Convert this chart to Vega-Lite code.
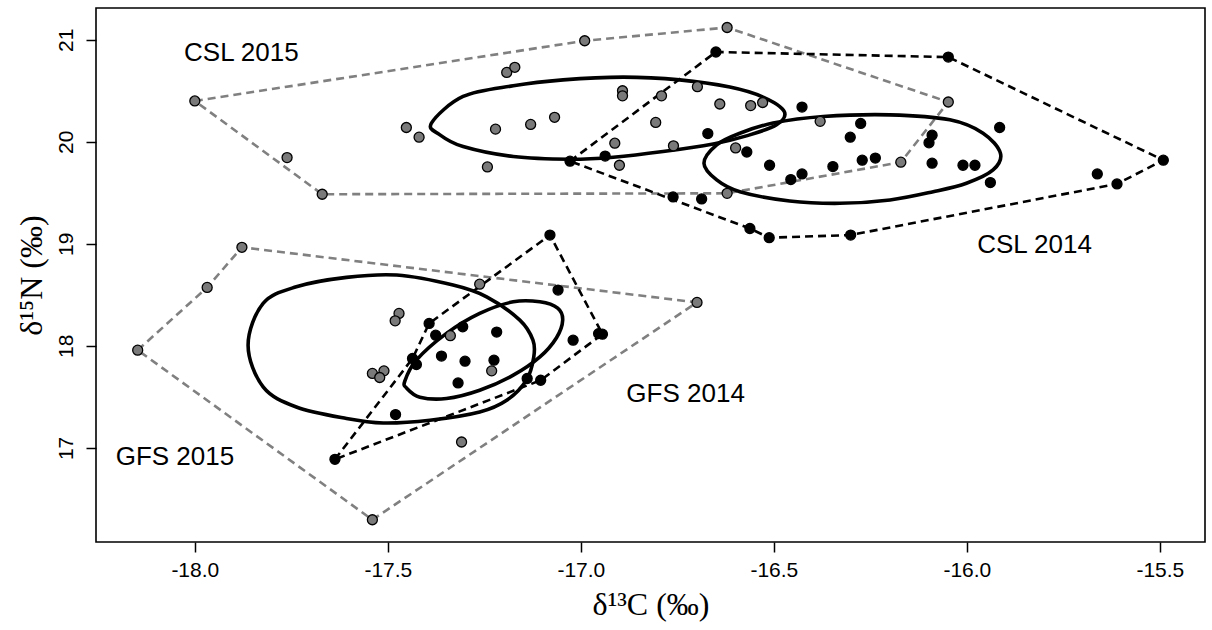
{
  "$schema": "https://vega.github.io/schema/vega-lite/v6.json",
  "width": 1109,
  "height": 534,
  "autosize": {"type": "none"},
  "padding": {"left": 96, "top": 8, "right": 7, "bottom": 88},
  "background": "white",
  "config": {
    "view": {"stroke": "#000000", "strokeWidth": 1.6},
    "axis": {"domain": false, "grid": false, "tickColor": "#000", "tickWidth": 1.5, "tickSize": 10, "labelColor": "#000", "titleColor": "#000", "labelFont": "Liberation Sans", "labelFontSize": 21, "titleFont": "Liberation Serif", "titleFontSize": 32, "titleFontWeight": "normal"}
  },
  "datasets": {
    "pts": [
      {"x": -18.0, "y": 20.4, "group": "CSL 2015", "year": "2015"},
      {"x": -17.761, "y": 19.845, "group": "CSL 2015", "year": "2015"},
      {"x": -17.67, "y": 19.486, "group": "CSL 2015", "year": "2015"},
      {"x": -16.99, "y": 20.99, "group": "CSL 2015", "year": "2015"},
      {"x": -17.192, "y": 20.68, "group": "CSL 2015", "year": "2015"},
      {"x": -17.171, "y": 20.73, "group": "CSL 2015", "year": "2015"},
      {"x": -17.452, "y": 20.14, "group": "CSL 2015", "year": "2015"},
      {"x": -17.419, "y": 20.045, "group": "CSL 2015", "year": "2015"},
      {"x": -17.221, "y": 20.124, "group": "CSL 2015", "year": "2015"},
      {"x": -17.13, "y": 20.17, "group": "CSL 2015", "year": "2015"},
      {"x": -17.068, "y": 20.24, "group": "CSL 2015", "year": "2015"},
      {"x": -17.242, "y": 19.754, "group": "CSL 2015", "year": "2015"},
      {"x": -16.892, "y": 20.5, "group": "CSL 2015", "year": "2015"},
      {"x": -16.892, "y": 20.45, "group": "CSL 2015", "year": "2015"},
      {"x": -16.912, "y": 19.986, "group": "CSL 2015", "year": "2015"},
      {"x": -16.9, "y": 19.77, "group": "CSL 2015", "year": "2015"},
      {"x": -16.621, "y": 21.12, "group": "CSL 2015", "year": "2015"},
      {"x": -16.791, "y": 20.45, "group": "CSL 2015", "year": "2015"},
      {"x": -16.698, "y": 20.54, "group": "CSL 2015", "year": "2015"},
      {"x": -16.64, "y": 20.37, "group": "CSL 2015", "year": "2015"},
      {"x": -16.56, "y": 20.355, "group": "CSL 2015", "year": "2015"},
      {"x": -16.529, "y": 20.385, "group": "CSL 2015", "year": "2015"},
      {"x": -16.806, "y": 20.19, "group": "CSL 2015", "year": "2015"},
      {"x": -16.76, "y": 19.96, "group": "CSL 2015", "year": "2015"},
      {"x": -16.599, "y": 19.94, "group": "CSL 2015", "year": "2015"},
      {"x": -16.38, "y": 20.2, "group": "CSL 2015", "year": "2015"},
      {"x": -16.171, "y": 19.8, "group": "CSL 2015", "year": "2015"},
      {"x": -16.621, "y": 19.495, "group": "CSL 2015", "year": "2015"},
      {"x": -16.048, "y": 20.39, "group": "CSL 2015", "year": "2015"},
      {"x": -17.028, "y": 19.81, "group": "CSL 2014", "year": "2014"},
      {"x": -16.937, "y": 19.86, "group": "CSL 2014", "year": "2014"},
      {"x": -16.65, "y": 20.88, "group": "CSL 2014", "year": "2014"},
      {"x": -16.427, "y": 20.34, "group": "CSL 2014", "year": "2014"},
      {"x": -16.671, "y": 20.08, "group": "CSL 2014", "year": "2014"},
      {"x": -16.57, "y": 19.9, "group": "CSL 2014", "year": "2014"},
      {"x": -16.511, "y": 19.77, "group": "CSL 2014", "year": "2014"},
      {"x": -16.456, "y": 19.63, "group": "CSL 2014", "year": "2014"},
      {"x": -16.427, "y": 19.685, "group": "CSL 2014", "year": "2014"},
      {"x": -16.347, "y": 19.757, "group": "CSL 2014", "year": "2014"},
      {"x": -16.275, "y": 20.18, "group": "CSL 2014", "year": "2014"},
      {"x": -16.302, "y": 20.045, "group": "CSL 2014", "year": "2014"},
      {"x": -16.271, "y": 19.82, "group": "CSL 2014", "year": "2014"},
      {"x": -16.237, "y": 19.84, "group": "CSL 2014", "year": "2014"},
      {"x": -16.761, "y": 19.46, "group": "CSL 2014", "year": "2014"},
      {"x": -16.687, "y": 19.44, "group": "CSL 2014", "year": "2014"},
      {"x": -16.562, "y": 19.15, "group": "CSL 2014", "year": "2014"},
      {"x": -16.512, "y": 19.06, "group": "CSL 2014", "year": "2014"},
      {"x": -16.301, "y": 19.086, "group": "CSL 2014", "year": "2014"},
      {"x": -16.048, "y": 20.83, "group": "CSL 2014", "year": "2014"},
      {"x": -15.915, "y": 20.14, "group": "CSL 2014", "year": "2014"},
      {"x": -16.09, "y": 20.065, "group": "CSL 2014", "year": "2014"},
      {"x": -16.098, "y": 19.99, "group": "CSL 2014", "year": "2014"},
      {"x": -16.09, "y": 19.79, "group": "CSL 2014", "year": "2014"},
      {"x": -16.01, "y": 19.77, "group": "CSL 2014", "year": "2014"},
      {"x": -15.979, "y": 19.77, "group": "CSL 2014", "year": "2014"},
      {"x": -15.939, "y": 19.6, "group": "CSL 2014", "year": "2014"},
      {"x": -15.662, "y": 19.685, "group": "CSL 2014", "year": "2014"},
      {"x": -15.611, "y": 19.587, "group": "CSL 2014", "year": "2014"},
      {"x": -15.491, "y": 19.82, "group": "CSL 2014", "year": "2014"},
      {"x": -17.968, "y": 18.573, "group": "GFS 2015", "year": "2015"},
      {"x": -18.148, "y": 17.958, "group": "GFS 2015", "year": "2015"},
      {"x": -17.54, "y": 16.296, "group": "GFS 2015", "year": "2015"},
      {"x": -17.878, "y": 18.966, "group": "GFS 2015", "year": "2015"},
      {"x": -17.471, "y": 18.318, "group": "GFS 2015", "year": "2015"},
      {"x": -17.481, "y": 18.245, "group": "GFS 2015", "year": "2015"},
      {"x": -17.54, "y": 17.73, "group": "GFS 2015", "year": "2015"},
      {"x": -17.51, "y": 17.755, "group": "GFS 2015", "year": "2015"},
      {"x": -17.521, "y": 17.69, "group": "GFS 2015", "year": "2015"},
      {"x": -17.262, "y": 18.605, "group": "GFS 2015", "year": "2015"},
      {"x": -17.338, "y": 18.1, "group": "GFS 2015", "year": "2015"},
      {"x": -17.231, "y": 17.755, "group": "GFS 2015", "year": "2015"},
      {"x": -16.699, "y": 18.426, "group": "GFS 2015", "year": "2015"},
      {"x": -17.309, "y": 17.058, "group": "GFS 2015", "year": "2015"},
      {"x": -17.637, "y": 16.888, "group": "GFS 2014", "year": "2014"},
      {"x": -17.48, "y": 17.327, "group": "GFS 2014", "year": "2014"},
      {"x": -17.426, "y": 17.817, "group": "GFS 2014", "year": "2014"},
      {"x": -17.436, "y": 17.876, "group": "GFS 2014", "year": "2014"},
      {"x": -17.393, "y": 18.22, "group": "GFS 2014", "year": "2014"},
      {"x": -17.08, "y": 19.086, "group": "GFS 2014", "year": "2014"},
      {"x": -17.059, "y": 18.547, "group": "GFS 2014", "year": "2014"},
      {"x": -16.944, "y": 18.115, "group": "GFS 2014", "year": "2014"},
      {"x": -16.954, "y": 18.12, "group": "GFS 2014", "year": "2014"},
      {"x": -17.02, "y": 18.056, "group": "GFS 2014", "year": "2014"},
      {"x": -17.376, "y": 18.105, "group": "GFS 2014", "year": "2014"},
      {"x": -17.306, "y": 18.187, "group": "GFS 2014", "year": "2014"},
      {"x": -17.218, "y": 18.135, "group": "GFS 2014", "year": "2014"},
      {"x": -17.361, "y": 17.9, "group": "GFS 2014", "year": "2014"},
      {"x": -17.3, "y": 17.85, "group": "GFS 2014", "year": "2014"},
      {"x": -17.225, "y": 17.86, "group": "GFS 2014", "year": "2014"},
      {"x": -17.318, "y": 17.637, "group": "GFS 2014", "year": "2014"},
      {"x": -17.139, "y": 17.68, "group": "GFS 2014", "year": "2014"},
      {"x": -17.104, "y": 17.663, "group": "GFS 2014", "year": "2014"}
    ],
    "hulls": [
      {"x": -18.0, "y": 20.4, "group": "CSL 2015", "year": "2015", "ord": 1},
      {"x": -16.99, "y": 20.99, "group": "CSL 2015", "year": "2015", "ord": 2},
      {"x": -16.621, "y": 21.12, "group": "CSL 2015", "year": "2015", "ord": 3},
      {"x": -16.048, "y": 20.39, "group": "CSL 2015", "year": "2015", "ord": 4},
      {"x": -16.171, "y": 19.8, "group": "CSL 2015", "year": "2015", "ord": 5},
      {"x": -16.621, "y": 19.495, "group": "CSL 2015", "year": "2015", "ord": 6},
      {"x": -17.67, "y": 19.486, "group": "CSL 2015", "year": "2015", "ord": 7},
      {"x": -17.028, "y": 19.81, "group": "CSL 2014", "year": "2014", "ord": 1},
      {"x": -16.65, "y": 20.88, "group": "CSL 2014", "year": "2014", "ord": 2},
      {"x": -16.048, "y": 20.83, "group": "CSL 2014", "year": "2014", "ord": 3},
      {"x": -15.491, "y": 19.82, "group": "CSL 2014", "year": "2014", "ord": 4},
      {"x": -15.611, "y": 19.587, "group": "CSL 2014", "year": "2014", "ord": 5},
      {"x": -16.301, "y": 19.086, "group": "CSL 2014", "year": "2014", "ord": 6},
      {"x": -16.512, "y": 19.06, "group": "CSL 2014", "year": "2014", "ord": 7},
      {"x": -16.562, "y": 19.15, "group": "CSL 2014", "year": "2014", "ord": 8},
      {"x": -18.148, "y": 17.958, "group": "GFS 2015", "year": "2015", "ord": 1},
      {"x": -17.968, "y": 18.573, "group": "GFS 2015", "year": "2015", "ord": 2},
      {"x": -17.878, "y": 18.966, "group": "GFS 2015", "year": "2015", "ord": 3},
      {"x": -16.699, "y": 18.426, "group": "GFS 2015", "year": "2015", "ord": 4},
      {"x": -17.54, "y": 16.296, "group": "GFS 2015", "year": "2015", "ord": 5},
      {"x": -17.637, "y": 16.888, "group": "GFS 2014", "year": "2014", "ord": 1},
      {"x": -17.436, "y": 17.876, "group": "GFS 2014", "year": "2014", "ord": 2},
      {"x": -17.393, "y": 18.22, "group": "GFS 2014", "year": "2014", "ord": 3},
      {"x": -17.08, "y": 19.086, "group": "GFS 2014", "year": "2014", "ord": 4},
      {"x": -16.944, "y": 18.115, "group": "GFS 2014", "year": "2014", "ord": 5},
      {"x": -17.104, "y": 17.663, "group": "GFS 2014", "year": "2014", "ord": 6}
    ],
    "ellipses": [
      {"x": -17.387, "y": 20.183, "group": "CSL 2015", "ord": 1},
      {"x": -17.305, "y": 20.444, "group": "CSL 2015", "ord": 2},
      {"x": -17.175, "y": 20.549, "group": "CSL 2015", "ord": 3},
      {"x": -17.046, "y": 20.607, "group": "CSL 2015", "ord": 4},
      {"x": -16.89, "y": 20.634, "group": "CSL 2015", "ord": 5},
      {"x": -16.744, "y": 20.607, "group": "CSL 2015", "ord": 6},
      {"x": -16.614, "y": 20.536, "group": "CSL 2015", "ord": 7},
      {"x": -16.528, "y": 20.438, "group": "CSL 2015", "ord": 8},
      {"x": -16.473, "y": 20.296, "group": "CSL 2015", "ord": 9},
      {"x": -16.493, "y": 20.166, "group": "CSL 2015", "ord": 10},
      {"x": -16.571, "y": 20.058, "group": "CSL 2015", "ord": 11},
      {"x": -16.657, "y": 19.979, "group": "CSL 2015", "ord": 12},
      {"x": -16.787, "y": 19.904, "group": "CSL 2015", "ord": 13},
      {"x": -16.916, "y": 19.849, "group": "CSL 2015", "ord": 14},
      {"x": -17.028, "y": 19.829, "group": "CSL 2015", "ord": 15},
      {"x": -17.175, "y": 19.855, "group": "CSL 2015", "ord": 16},
      {"x": -17.305, "y": 19.953, "group": "CSL 2015", "ord": 17},
      {"x": -17.365, "y": 20.068, "group": "CSL 2015", "ord": 18},
      {"x": -16.681, "y": 19.79, "group": "CSL 2014", "ord": 1},
      {"x": -16.648, "y": 19.97, "group": "CSL 2014", "ord": 2},
      {"x": -16.588, "y": 20.084, "group": "CSL 2014", "ord": 3},
      {"x": -16.502, "y": 20.183, "group": "CSL 2014", "ord": 4},
      {"x": -16.372, "y": 20.247, "group": "CSL 2014", "ord": 5},
      {"x": -16.199, "y": 20.264, "group": "CSL 2014", "ord": 6},
      {"x": -16.044, "y": 20.215, "group": "CSL 2014", "ord": 7},
      {"x": -15.958, "y": 20.084, "group": "CSL 2014", "ord": 8},
      {"x": -15.913, "y": 19.888, "group": "CSL 2014", "ord": 9},
      {"x": -15.932, "y": 19.724, "group": "CSL 2014", "ord": 10},
      {"x": -16.001, "y": 19.594, "group": "CSL 2014", "ord": 11},
      {"x": -16.087, "y": 19.511, "group": "CSL 2014", "ord": 12},
      {"x": -16.199, "y": 19.43, "group": "CSL 2014", "ord": 13},
      {"x": -16.329, "y": 19.397, "group": "CSL 2014", "ord": 14},
      {"x": -16.459, "y": 19.42, "group": "CSL 2014", "ord": 15},
      {"x": -16.588, "y": 19.511, "group": "CSL 2014", "ord": 16},
      {"x": -16.648, "y": 19.626, "group": "CSL 2014", "ord": 17},
      {"x": -17.862, "y": 18.007, "group": "GFS 2015", "ord": 1},
      {"x": -17.823, "y": 18.416, "group": "GFS 2015", "ord": 2},
      {"x": -17.737, "y": 18.579, "group": "GFS 2015", "ord": 3},
      {"x": -17.607, "y": 18.671, "group": "GFS 2015", "ord": 4},
      {"x": -17.477, "y": 18.694, "group": "GFS 2015", "ord": 5},
      {"x": -17.331, "y": 18.596, "group": "GFS 2015", "ord": 6},
      {"x": -17.244, "y": 18.481, "group": "GFS 2015", "ord": 7},
      {"x": -17.158, "y": 18.252, "group": "GFS 2015", "ord": 8},
      {"x": -17.124, "y": 18.056, "group": "GFS 2015", "ord": 9},
      {"x": -17.122, "y": 17.889, "group": "GFS 2015", "ord": 10},
      {"x": -17.141, "y": 17.663, "group": "GFS 2015", "ord": 11},
      {"x": -17.192, "y": 17.467, "group": "GFS 2015", "ord": 12},
      {"x": -17.262, "y": 17.352, "group": "GFS 2015", "ord": 13},
      {"x": -17.391, "y": 17.271, "group": "GFS 2015", "ord": 14},
      {"x": -17.512, "y": 17.244, "group": "GFS 2015", "ord": 15},
      {"x": -17.607, "y": 17.288, "group": "GFS 2015", "ord": 16},
      {"x": -17.737, "y": 17.401, "group": "GFS 2015", "ord": 17},
      {"x": -17.823, "y": 17.598, "group": "GFS 2015", "ord": 18},
      {"x": -17.456, "y": 17.654, "group": "GFS 2014", "ord": 1},
      {"x": -17.426, "y": 17.86, "group": "GFS 2014", "ord": 2},
      {"x": -17.348, "y": 18.122, "group": "GFS 2014", "ord": 3},
      {"x": -17.262, "y": 18.318, "group": "GFS 2014", "ord": 4},
      {"x": -17.175, "y": 18.432, "group": "GFS 2014", "ord": 5},
      {"x": -17.106, "y": 18.432, "group": "GFS 2014", "ord": 6},
      {"x": -17.06, "y": 18.37, "group": "GFS 2014", "ord": 7},
      {"x": -17.047, "y": 18.252, "group": "GFS 2014", "ord": 8},
      {"x": -17.063, "y": 18.08, "group": "GFS 2014", "ord": 9},
      {"x": -17.106, "y": 17.892, "group": "GFS 2014", "ord": 10},
      {"x": -17.175, "y": 17.713, "group": "GFS 2014", "ord": 11},
      {"x": -17.262, "y": 17.565, "group": "GFS 2014", "ord": 12},
      {"x": -17.348, "y": 17.484, "group": "GFS 2014", "ord": 13},
      {"x": -17.417, "y": 17.497, "group": "GFS 2014", "ord": 14},
      {"x": -17.451, "y": 17.585, "group": "GFS 2014", "ord": 15}
    ],
    "labels": [
      {"x": -18.028, "y": 20.787, "text": "CSL 2015"},
      {"x": -15.973, "y": 18.907, "text": "CSL 2014"},
      {"x": -16.882, "y": 17.45, "text": "GFS 2014"},
      {"x": -18.205, "y": 16.829, "text": "GFS 2015"}
    ]
  },
  "layer": [
    {
      "data": {"name": "hulls"},
      "mark": {"type": "line", "interpolate": "linear-closed", "strokeWidth": 2.6, "strokeDash": [8, 5]},
      "encoding": {
        "x": {"field": "x", "type": "quantitative", "scale": {"domain": [-18.256, -15.383], "nice": false, "zero": false}, "axis": {"values": [-18, -17.5, -17, -16.5, -16, -15.5], "labelExpr": "(datum.value < 0 ? '-' : '') + format(abs(datum.value), '.1f')", "labelPadding": 7, "title": "δ¹³C (‰)", "titlePadding": 9}},
        "y": {"field": "y", "type": "quantitative", "scale": {"domain": [16.078, 21.311], "nice": false, "zero": false}, "axis": {"values": [17, 18, 19, 20, 21], "format": "d", "labelAngle": -90, "labelAlign": "center", "labelBaseline": "bottom", "labelPadding": 10, "title": "δ¹⁵N (‰)", "titlePadding": 7}},
        "detail": {"field": "group"},
        "order": {"field": "ord", "type": "quantitative"},
        "color": {"field": "year", "type": "nominal", "scale": {"domain": ["2015", "2014"], "range": ["#808080", "#000000"]}, "legend": null}
      }
    },
    {
      "data": {"name": "ellipses"},
      "mark": {"type": "line", "interpolate": "cardinal-closed", "strokeWidth": 3.6, "color": "#000000"},
      "encoding": {
        "x": {"field": "x", "type": "quantitative"},
        "y": {"field": "y", "type": "quantitative"},
        "detail": {"field": "group"},
        "order": {"field": "ord", "type": "quantitative"}
      }
    },
    {
      "data": {"name": "pts"},
      "mark": {"type": "point", "shape": "circle", "filled": true, "stroke": "#000000", "strokeWidth": 1.3, "size": 100, "opacity": 1},
      "encoding": {
        "x": {"field": "x", "type": "quantitative"},
        "y": {"field": "y", "type": "quantitative"},
        "fill": {"field": "year", "type": "nominal", "scale": {"domain": ["2015", "2014"], "range": ["#7a7a7a", "#000000"]}, "legend": null}
      }
    },
    {
      "data": {"name": "labels"},
      "mark": {"type": "text", "align": "left", "baseline": "alphabetic", "font": "Liberation Sans", "fontSize": 26, "color": "#000000"},
      "encoding": {
        "x": {"field": "x", "type": "quantitative"},
        "y": {"field": "y", "type": "quantitative"},
        "text": {"field": "text"}
      }
    }
  ]
}
